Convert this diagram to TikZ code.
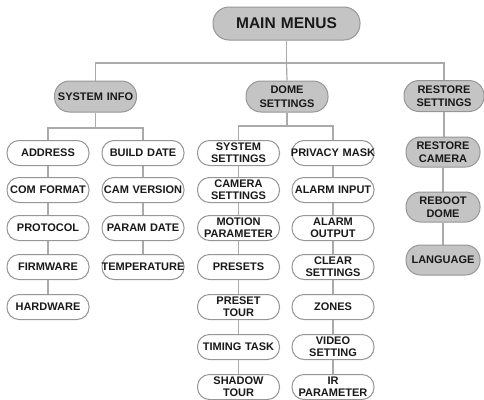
\documentclass[tikz,border=0pt]{standalone}
\usepackage{fontspec}
\setmainfont{Liberation Sans}
\usetikzlibrary{backgrounds}
\definecolor{boxfill}{RGB}{196,196,196}
\definecolor{boxline}{RGB}{150,150,150}
\definecolor{conn}{RGB}{170,170,170}
\definecolor{txt}{RGB}{25,25,25}
\tikzset{
  base/.style={draw=boxline, line width=1pt, inner ysep=0pt, align=center,
    text=txt, font=\bfseries\fontsize{11}{12}\selectfont},
  leaf/.style={base, fill=white, rounded corners=12pt, minimum width=82pt, minimum height=25pt, text width=90pt, inner xsep=-4pt},
  grp/.style={base, fill=boxfill, rounded corners=15pt, minimum width=82pt, minimum height=31pt, text width=80pt, inner xsep=1pt, font=\bfseries\fontsize{11}{13.5}\selectfont},
  rst/.style={base, fill=boxfill, rounded corners=14.5pt, minimum width=74pt, minimum height=30pt, text width=72pt, inner xsep=1pt, font=\bfseries\fontsize{11}{13}\selectfont},
  top/.style={base, fill=boxfill, rounded corners=16pt, minimum width=147pt, minimum height=33pt, text width=145pt, inner xsep=1pt, font=\bfseries\fontsize{15.5}{16}\selectfont},
  conn/.style={draw=conn, line width=1.2pt}
}
\begin{document}
\begin{tikzpicture}[x=1pt,y=-1pt]
\useasboundingbox (0,0) rectangle (484,399);
\node[top] (main) at (286.5,23.5) {MAIN MENUS};
\node[grp] (sysinfo) at (95.5,96.5) {SYSTEM INFO};
\node[grp] (dome) at (287,96.5) {DOME\\SETTINGS};
\node[grp, minimum width=80pt, text width=78pt] (restore) at (444,96) {RESTORE\\SETTINGS};
% system info columns
\node[leaf] (address) at (48,153) {ADDRESS};
\node[leaf] (comformat) at (48,190) {COM FORMAT};
\node[leaf] (protocol) at (48,228) {PROTOCOL};
\node[leaf] (firmware) at (48,267) {FIRMWARE};
\node[leaf] (hardware) at (48,307) {HARDWARE};
\node[leaf] (builddate) at (143,153) {BUILD DATE};
\node[leaf] (camversion) at (143,190) {CAM VERSION};
\node[leaf] (paramdate) at (143,228) {PARAM DATE};
\node[leaf] (temperature) at (143,267) {TEMPERATURE};
% dome settings columns
\node[leaf] (syssettings) at (238.5,153) {SYSTEM\\SETTINGS};
\node[leaf] (camsettings) at (238.5,190) {CAMERA\\SETTINGS};
\node[leaf] (motion) at (238.5,228) {MOTION\\PARAMETER};
\node[leaf] (presets) at (238.5,267) {PRESETS};
\node[leaf] (presettour) at (238.5,307) {PRESET\\TOUR};
\node[leaf] (timing) at (238.5,347) {TIMING TASK};
\node[leaf] (shadow) at (238.5,387) {SHADOW\\TOUR};
\node[leaf] (privacy) at (333,153) {PRIVACY MASK};
\node[leaf] (alarmin) at (333,190) {ALARM INPUT};
\node[leaf] (alarmout) at (333,228) {ALARM\\OUTPUT};
\node[leaf] (clear) at (333,267) {CLEAR\\SETTINGS};
\node[leaf] (zones) at (333,307) {ZONES};
\node[leaf] (video) at (333,347) {VIDEO\\SETTING};
\node[leaf] (ir) at (333,387) {IR\\PARAMETER};
% restore column
\node[rst] (restcam) at (443,152) {RESTORE\\CAMERA};
\node[rst] (reboot) at (443,207) {REBOOT\\DOME};
\node[rst] (language) at (443,260) {LANGUAGE};
% connectors
\coordinate (bus) at (286.5,63);
\coordinate (sbL) at (48,128);
\coordinate (sbR) at (143,128);
\coordinate (dbL) at (238.5,126);
\coordinate (dbR) at (333,126);
\begin{scope}[on background layer]
\draw[conn] (main) -- (bus);
\draw[conn] (sysinfo.north) |- (bus) -| (restore.north);
\draw[conn] (bus) -- (dome.north);
\draw[conn] (sysinfo) -- (sysinfo |- sbL);
\draw[conn] (address) -- (sbL) -- (sbR) -- (builddate);
\draw[conn] (address) -- (comformat) -- (protocol) -- (firmware) -- (hardware);
\draw[conn] (builddate) -- (camversion) -- (paramdate) -- (temperature);
\draw[conn] (dome) -- (dome |- dbL);
\draw[conn] (syssettings) -- (dbL) -- (dbR) -- (privacy);
\draw[conn] (syssettings) -- (camsettings) -- (motion) -- (presets) -- (presettour) -- (timing) -- (shadow);
\draw[conn] (privacy) -- (alarmin) -- (alarmout) -- (clear) -- (zones) -- (video) -- (ir);
\draw[conn] (restore) -- (restore |- restcam.north);
\draw[conn] (restcam) -- (reboot) -- (language);
\end{scope}
\end{tikzpicture}
\end{document}
